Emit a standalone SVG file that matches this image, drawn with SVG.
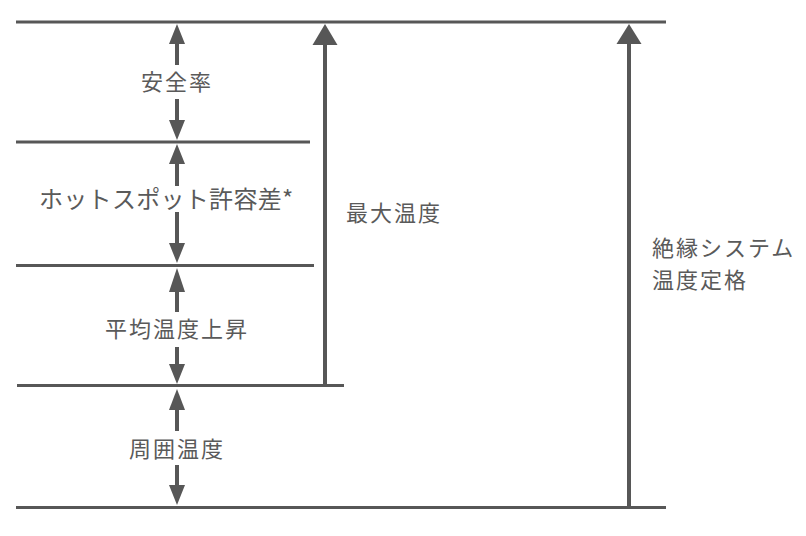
<svg xmlns="http://www.w3.org/2000/svg" width="806" height="536" viewBox="0 0 806 536">
<style>
.ln{stroke:#575757;stroke-width:3.2;fill:none}
.sh{stroke:#575757;stroke-width:4;fill:none}
.hd{fill:#575757}
.t{font-family:"Noto Sans CJK JP","Noto Sans",sans-serif;font-size:22px;fill:#5a5a5a;dominant-baseline:central;letter-spacing:2px}
</style>
<rect width="806" height="536" fill="#fff"/>
<g id="levels">
<line class="ln" x1="16" y1="22" x2="666" y2="22"/>
<line class="ln" x1="16" y1="142" x2="310" y2="142"/>
<line class="ln" x1="16" y1="265.5" x2="314" y2="265.5"/>
<line class="ln" x1="17" y1="385.5" x2="344" y2="385.5"/>
<line class="ln" x1="16" y1="507.5" x2="666" y2="507.5"/>
</g>
<g id="connectors">
<line class="sh" x1="177" y1="42" x2="177" y2="65"/>
<polygon class="hd" points="177,24 169,44 185,44"/>
<line class="sh" x1="177" y1="99" x2="177" y2="122"/>
<polygon class="hd" points="177,140 169,120 185,120"/>
<line class="sh" x1="177" y1="162" x2="177" y2="186"/>
<polygon class="hd" points="177,144 169,164 185,164"/>
<line class="sh" x1="177" y1="212" x2="177" y2="245"/>
<polygon class="hd" points="177,263 169,243 185,243"/>
<line class="sh" x1="177" y1="290" x2="177" y2="312"/>
<polygon class="hd" points="177,268 169,292 185,292"/>
<line class="sh" x1="177" y1="347" x2="177" y2="368"/>
<polygon class="hd" points="177,384 169,364 185,364"/>
<line class="sh" x1="177" y1="408" x2="177" y2="431"/>
<polygon class="hd" points="177,389 169,410 185,410"/>
<line class="sh" x1="177" y1="465" x2="177" y2="487"/>
<polygon class="hd" points="177,505 169,485 185,485"/>
<line class="sh" x1="325" y1="43" x2="325" y2="386"/>
<polygon class="hd" points="325,24 312.5,45 337.5,45"/>
<line class="sh" x1="629" y1="42" x2="629" y2="507"/>
<polygon class="hd" points="629,24 616.5,44 641.5,44"/>
</g>
<g id="safety"><text class="t" x="177" y="80" text-anchor="middle">安全率</text></g>
<g id="hotspot"><text class="t" x="39" y="197" style="font-size:24px;letter-spacing:0.3px">ホットスポット許容差*</text></g>
<g id="avgrise"><text class="t" x="177" y="327" text-anchor="middle">平均温度上昇</text></g>
<g id="ambient"><text class="t" x="177" y="447" text-anchor="middle">周囲温度</text></g>
<g id="maxtemp"><text class="t" x="346" y="211">最大温度</text></g>
<g id="rating"><text class="t" x="652" y="246">絶縁システム</text><text class="t" x="652" y="278">温度定格</text></g>
</svg>
